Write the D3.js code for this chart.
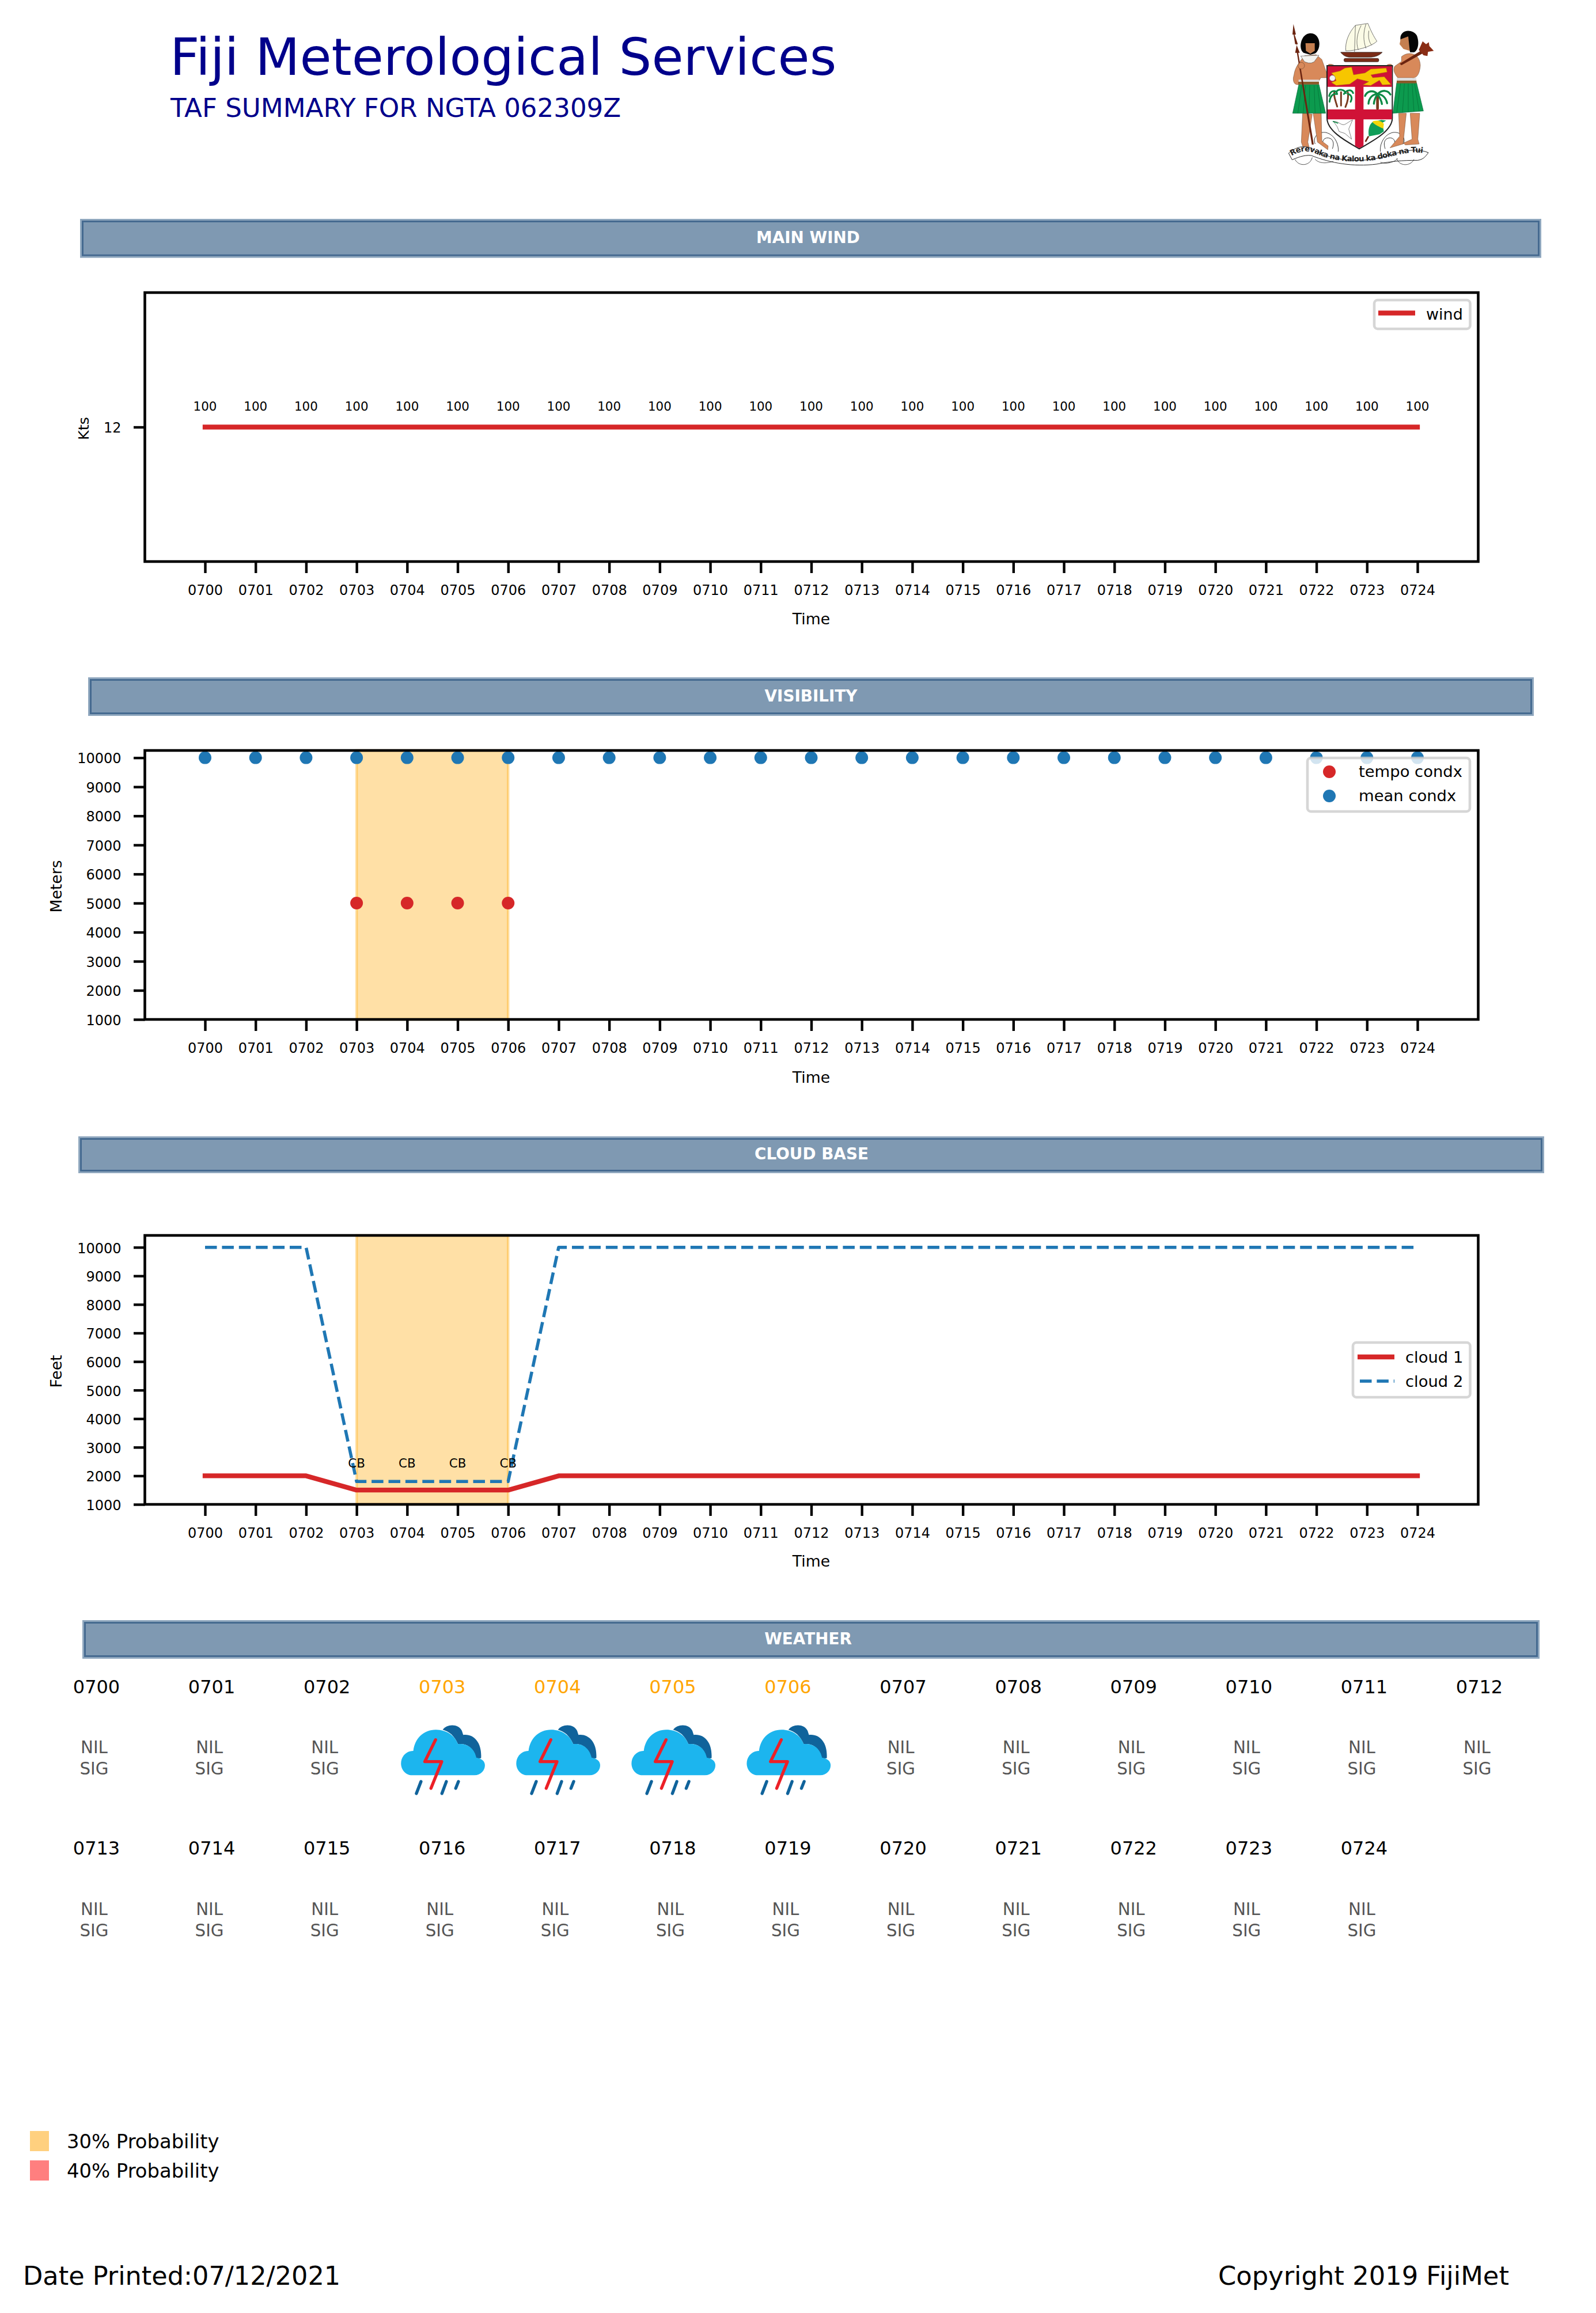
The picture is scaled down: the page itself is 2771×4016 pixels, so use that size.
<!DOCTYPE html>
<html><head><meta charset="utf-8">
<style>
html,body{margin:0;padding:0;background:#fff}
svg{display:block}
text{font-family:"DejaVu Sans";fill:#000}
</style>
<script src="https://cdn.jsdelivr.net/npm/d3@7/dist/d3.min.js"></script>
</head><body><svg id="c" width="2771" height="4016" viewBox="0 0 2771 4016"></svg>
<script>
// ---------- data ----------
const times = ["0700","0701","0702","0703","0704","0705","0706","0707","0708","0709","0710","0711","0712","0713","0714","0715","0716","0717","0718","0719","0720","0721","0722","0723","0724"];
const windSpeed = [12,12,12,12,12,12,12,12,12,12,12,12,12,12,12,12,12,12,12,12,12,12,12,12,12];
const windDir = ["100","100","100","100","100","100","100","100","100","100","100","100","100","100","100","100","100","100","100","100","100","100","100","100","100"];
const visMean = [10000,10000,10000,10000,10000,10000,10000,10000,10000,10000,10000,10000,10000,10000,10000,10000,10000,10000,10000,10000,10000,10000,10000,10000,10000];
const visTempoTimes = ["0703","0704","0705","0706"];
const visTempo = [5000,5000,5000,5000];
const cloud1 = [2000,2000,2000,1500,1500,1500,1500,2000,2000,2000,2000,2000,2000,2000,2000,2000,2000,2000,2000,2000,2000,2000,2000,2000,2000];
const cloud2 = [10000,10000,10000,1800,1800,1800,1800,10000,10000,10000,10000,10000,10000,10000,10000,10000,10000,10000,10000,10000,10000,10000,10000,10000,10000];
const cbTimes = ["0703","0704","0705","0706"];
const cbLabels = ["CB","CB","CB","CB"];
const cbHeights = [1800,1800,1800,1800];
const tempoSpan = ["0703","0706"];
const yTicks1000 = [1000,2000,3000,4000,5000,6000,7000,8000,9000,10000];
const windTicks = [12];
const weather = ["NIL","NIL","NIL","TS","TS","TS","TS","NIL","NIL","NIL","NIL","NIL","NIL","NIL","NIL","NIL","NIL","NIL","NIL","NIL","NIL","NIL","NIL","NIL","NIL"];
const probTimes = ["0703","0704","0705","0706"];
const probLabels = ["30% Probability","40% Probability"];
const probColors = ["#ffd07f","#ff7f7f"];
const banners = ["MAIN WIND","VISIBILITY","CLOUD BASE","WEATHER"];

// ---------- helpers ----------
const RED="#d62728", BLUE="#1f77b4", DASH="20.5 8.9";
const svg=d3.select("#c");
const L=251.5,R=2566.5,T0=356,T1=2461;
const x=d3.scalePoint().domain(times).range([T0,T1]);
const txt=(g,xx,yy,s,size,o={})=>{const t=g.append("text").attr("x",xx).attr("y",yy).attr("font-size",size).text(s);
  if(o.anchor)t.attr("text-anchor",o.anchor); if(o.fill)t.style("fill",o.fill); if(o.weight)t.attr("font-weight",o.weight); if(o.rot!==undefined)t.attr("transform",`rotate(${o.rot} ${xx} ${yy})`);return t;};

function banner(bx0,by0,bx1,by1,label,cx){
  const g=svg.append("g");
  g.append("rect").attr("x",bx0+3).attr("y",by0+3).attr("width",bx1-bx0-6).attr("height",by1-by0-6).attr("fill","#7f99b2").attr("stroke","#8fa7be").attr("stroke-width",6);
  g.append("rect").attr("x",bx0+4.5).attr("y",by0+4.5).attr("width",bx1-bx0-9).attr("height",by1-by0-9).attr("fill","none").attr("stroke","#456a90").attr("stroke-width",3);
  txt(g,cx,(by0+by1)/2+8,label,27.8,{anchor:"middle",fill:"#fff",weight:"bold"});
}
function axes(g,y,ticks,top,bottom,baseX,timeY,ylab,ylabX,ylabY,ylabSize){
  const ax=g.append("g").attr("transform",`translate(0,${bottom})`).call(d3.axisBottom(x).tickSize(20).tickSizeOuter(0));
  ax.select(".domain").remove();
  ax.selectAll(".tick line").attr("stroke","#000").attr("stroke-width",4.4);
  ax.selectAll(".tick text").attr("y",baseX-bottom).attr("dy",0).attr("font-size",24).attr("font-family","DejaVu Sans");
  const ay=g.append("g").attr("transform",`translate(${L},0)`).call(d3.axisLeft(y).tickValues(ticks).tickFormat(d3.format("d")).tickSize(19.5).tickSizeOuter(0));
  ay.select(".domain").remove();
  ay.selectAll(".tick line").attr("stroke","#000").attr("stroke-width",4.4);
  ay.selectAll(".tick text").attr("x",-41).attr("dy","0.39em").attr("font-size",24).attr("font-family","DejaVu Sans");
  g.append("rect").attr("x",L).attr("y",top).attr("width",R-L).attr("height",bottom-top).attr("fill","none").attr("stroke","#000").attr("stroke-width",4.6);
  txt(g,(T0+T1)/2,timeY,"Time",26.7,{anchor:"middle"});
  txt(g,ylabX,ylabY,ylab,ylabSize||26.7,{anchor:"middle",rot:-90});
}
function shade(g,top,bottom){
  g.append("rect").attr("x",x(tempoSpan[0])).attr("y",top).attr("width",x(tempoSpan[1])-x(tempoSpan[0])).attr("height",bottom-top)
   .attr("fill","#ffa500").attr("fill-opacity",.35).attr("stroke","#ffa500").attr("stroke-opacity",.35).attr("stroke-width",4.5);
}
function legendBox(g,a,b,c,d){
  g.append("rect").attr("x",a).attr("y",b).attr("width",c-a).attr("height",d-b).attr("rx",6).attr("ry",6)
   .attr("fill","#fff").attr("fill-opacity",.8).attr("stroke","#cccccc").attr("stroke-opacity",.8).attr("stroke-width",4.6);
}

// ---------- header ----------
const head=svg.append("g");
txt(head,295,130,"Fiji Meterological Services",89.6,{fill:"#00008b"});
txt(head,296,202.7,"TAF SUMMARY FOR NGTA 062309Z",45.1,{fill:"#00008b"});

// crest (drawn in a 1200x900 local box)
const crest=svg.append("g").attr("transform","translate(2150,20) scale(0.33333)");
crest.node().innerHTML=`
<g fill="none" stroke="#333" stroke-width="3">
 <path d="M400,690 C385,650 420,625 455,630 C500,640 525,690 520,730"/><path d="M440,690 C435,660 465,650 485,665 C500,680 495,700 490,715"/>
 <path d="M860,690 C875,650 840,625 805,630 C760,640 735,690 740,730"/><path d="M815,690 C820,660 790,650 770,665 C755,680 760,700 765,715"/>
</g>
<g>
 <path d="M345,230 C320,260 295,290 290,330 C280,360 290,385 315,380 L320,360 L420,360 L430,345 L460,345 L460,320 L435,250 L405,225 Z" fill="#d8895a" stroke="#5a3a25" stroke-width="1.5"/>
 <path d="M335,530 L328,680 L338,710 L370,712 L362,680 L385,535 Z" fill="#d8895a" stroke="#5a3a25" stroke-width="1.5"/>
 <path d="M390,530 L412,680 L466,720 L468,700 L435,675 L432,530 Z" fill="#d8895a" stroke="#5a3a25" stroke-width="1.5"/>
 <path d="M315,380 L420,380 L455,530 L283,530 Z" fill="#0c9a4e" stroke="#06643a" stroke-width="2"/>
 <g stroke="#067a3c" stroke-width="3"><path d="M330,385 L310,530M350,385 L338,530M372,385 L368,530M395,385 L400,530M412,385 L430,530"/></g>
 <rect x="314" y="355" width="106" height="12" fill="#ddd"/><rect x="312" y="366" width="108" height="14" fill="#8a5a2a"/>
 <path d="M340,215 C310,195 325,115 375,113 C430,113 435,195 400,218 L375,225 Z" fill="#050505"/>
 <path d="M350,165 L398,165 L398,205 L375,220 L352,205 Z" fill="#c57f50"/>
 <path d="M325,232 L420,228 L395,262 L380,268 L365,268 L345,262 Z" fill="#f4f4f0" stroke="#555" stroke-width="2"/>
 <path d="M287,65 L300,120 L293,120 L310,170 L302,170 L320,215 L312,215 L393,692 L383,694 L305,215 L296,215 L305,170 L296,170 L288,120 L282,120 Z" fill="#6b2410"/>
 <ellipse cx="328" cy="282" rx="17" ry="17" fill="#d8895a" stroke="#5a3a25" stroke-width="1.5"/>
 <path d="M470,275 C490,272 505,280 502,292 C495,300 480,298 470,295 Z" fill="#d8895a" stroke="#5a3a25" stroke-width="1.5"/>
</g>
<g>
 <path d="M850,235 C885,205 945,215 948,280 C945,330 925,350 905,345 L830,345 C810,320 805,300 815,285 L850,260 Z" fill="#d8895a" stroke="#5a3a25" stroke-width="1.5"/>
 <path d="M835,530 L840,650 L790,710 L858,690 L875,530 Z" fill="#d8895a" stroke="#5a3a25" stroke-width="1.5"/>
 <path d="M895,530 L905,665 L860,685 L870,695 L942,690 L935,665 L945,530 Z" fill="#d8895a" stroke="#5a3a25" stroke-width="1.5"/>
 <path d="M825,370 L928,370 L964,518 L805,530 Z" fill="#0c9a4e" stroke="#06643a" stroke-width="2"/>
 <g stroke="#067a3c" stroke-width="3"><path d="M845,375 L825,528M865,375 L855,526M885,375 L885,524M905,375 L915,522M918,375 L942,520"/></g>
 <rect x="825" y="347" width="102" height="14" fill="#ddd"/><rect x="825" y="360" width="103" height="14" fill="#8a5a2a"/>
 <path d="M845,150 C835,95 905,85 930,125 C945,165 935,205 915,212 L895,212 L885,180 Z" fill="#050505"/>
 <path d="M845,145 L885,130 L893,205 L860,195 L840,170 Z" fill="#c57f50"/>
 <path d="M840,272 L950,205 L960,218 L850,280 Z" fill="#6b2410"/>
 <path d="M960,155 L978,170 L992,160 L995,180 L1018,205 L988,210 L985,232 L965,228 L940,200 Z" fill="#8a2d15"/>
 <path d="M775,278 C790,270 805,275 805,290 L800,295 L785,292 Z" fill="#d8895a" stroke="#5a3a25" stroke-width="1.5"/>
</g>
<path d="M462,282 H802 V555 C802,625 690,680 630,715 C570,680 462,625 462,555 Z" fill="#fff" stroke="#222" stroke-width="6"/>
<path d="M465,285 H800 V392 H652 V510 H800 V562 H652 V700 L630,712 L608,700 V562 H465 V510 H608 V392 H465 Z" fill="#d01237"/>
<path d="M485,320 L530,310 L555,295 L590,290 L600,330 L660,320 L690,300 L770,295 L775,315 L690,330 L700,345 L760,340 L795,380 L750,382 L735,358 L690,385 L650,382 L680,365 L620,350 L580,378 L510,385 L485,370 L510,360 L500,335 Z" fill="#f7c600" stroke="#a98a00" stroke-width="1.5"/>
<circle cx="490" cy="347" r="15" fill="#f2f2f2" stroke="#777" stroke-width="2"/>
<g fill="none" stroke-linecap="round">
 <path d="M515,495 C505,460 495,440 500,420M535,490 L535,420M558,497 C570,470 575,445 570,420" stroke="#7a3b20" stroke-width="9"/>
 <path d="M473,440 C480,410 510,405 515,430M475,470 C478,440 495,425 510,430M510,420 C520,400 550,405 560,425M550,430 C565,405 590,405 598,425M585,470 C595,450 590,435 570,428" stroke="#0c8a45" stroke-width="9"/>
 <path d="M725,505 L725,440" stroke="#7a3b20" stroke-width="14"/>
 <path d="M725,430 C700,405 670,415 660,440M725,430 C700,430 680,450 678,480M725,430 C750,405 780,410 792,432M725,430 C750,430 770,450 775,478M725,430 C715,445 708,460 706,480M725,430 C735,445 745,460 748,482" stroke="#0c8a45" stroke-width="10"/>
</g>
<path d="M495,572 C520,570 530,590 550,590 C565,585 580,570 595,565 L575,612 L590,665 L555,635 L525,625 L515,600 Z" fill="#fff" stroke="#444" stroke-width="2"/>
<path d="M492,572 L520,582" stroke="#0c8a45" stroke-width="5"/>
<path d="M700,575 L745,565 L770,568 L750,580 L758,625 L735,640 L680,650 C675,620 680,590 700,575 Z" fill="#0f9d58"/>
<path d="M698,575 C705,565 745,565 758,585 L755,610 C735,600 710,590 698,575 Z" fill="#f3d60a"/>
<path d="M678,650 L662,678" stroke="#6b2410" stroke-width="8"/>
<path d="M610,72 L675,62 C690,100 705,130 722,155 C690,185 610,205 560,205 C555,160 575,110 610,72 Z" fill="#fbfbe6" stroke="#333" stroke-width="2"/>
<g fill="none" stroke="#333" stroke-width="2"><path d="M640,72 C620,110 610,160 625,200M665,65 C650,110 650,150 665,192M680,100 C675,130 680,160 695,175M610,72 L605,210"/></g>
<path d="M533,212 H750 C735,228 715,238 680,238 H585 C560,238 545,228 533,212 Z" fill="#7a2c18" stroke="#222" stroke-width="2"/>
<rect x="550" y="244" width="182" height="18" rx="8" fill="#7a2c18" stroke="#222" stroke-width="2"/>
<path d="M262,738 C300,705 340,695 380,712 C470,770 600,790 720,765 C820,745 900,700 990,735 C975,755 965,770 935,775 C850,775 800,780 720,795 C600,810 480,790 380,750 C340,745 300,765 280,772 Z" fill="#fff" stroke="#222" stroke-width="3"/>
<g fill="none" stroke="#333" stroke-width="2.5"><path d="M295,770 C315,810 375,805 385,760M915,770 C895,810 835,805 825,765M400,770 C430,800 480,785 495,780M740,785 C775,800 820,780 830,765"/></g>
<path id="scrollp" d="M278,752 C320,725 360,722 400,738 C480,778 600,792 720,772 C820,752 900,718 985,742" fill="none"/>
<text font-family="Liberation Serif" font-weight="bold" font-size="40" textLength="700" lengthAdjust="spacing" style="fill:#222"><textPath href="#scrollp">Rerevaka na Kalou ka doka na Tui</textPath></text>`;

// ---------- main wind ----------
banner(139,380,2676,447.7,banners[0],1403);
{
  const g=svg.append("g"), top=508,bottom=975;
  const y=d3.scaleLinear().domain([11,13]).range([bottom,top]);
  g.selectAll("text.dir").data(windDir).join("text").attr("class","dir").attr("x",(d,i)=>x(times[i])).attr("y",(d,i)=>y(windSpeed[i])-29).attr("font-size",21.4).attr("text-anchor","middle").text(d=>d);
  g.append("path").datum(windSpeed).attr("fill","none").attr("stroke",RED).attr("stroke-width",8.3).attr("stroke-linecap","square")
   .attr("d",d3.line().x((d,i)=>x(times[i])).y(d=>y(d)));
  axes(g,y,windTicks,top,bottom,1033,1083.5,"Kts",154,744,25.5);
  legendBox(g,2386,521,2552.5,571);
  g.append("line").attr("x1",2393).attr("x2",2457).attr("y1",543.5).attr("y2",543.5).attr("stroke",RED).attr("stroke-width",8.3);
  txt(g,2476,554.5,"wind",27);
}

// ---------- visibility ----------
banner(153,1176,2663,1243,banners[1],1408);
{
  const g=svg.append("g"), top=1303,bottom=1770;
  const y=d3.scaleLinear().domain([1000,10250]).range([bottom,top]);
  shade(g,top,bottom);
  g.selectAll("circle.mean").data(visMean).join("circle").attr("class","mean").attr("cx",(d,i)=>x(times[i])).attr("cy",d=>y(d)).attr("r",11).attr("fill",BLUE);
  g.selectAll("circle.tempo").data(visTempo).join("circle").attr("class","tempo").attr("cx",(d,i)=>x(visTempoTimes[i])).attr("cy",d=>y(d)).attr("r",11).attr("fill",RED);
  axes(g,y,yTicks1000,top,bottom,1828,1879.5,"Meters",107,1539);
  legendBox(g,2270,1316,2552,1409);
  g.append("circle").attr("cx",2308).attr("cy",1340).attr("r",11).attr("fill",RED);
  g.append("circle").attr("cx",2308).attr("cy",1382).attr("r",11).attr("fill",BLUE);
  txt(g,2359,1349,"tempo condx",27.4);
  txt(g,2359,1391,"mean condx",27.4);
}

// ---------- cloud base ----------
banner(136,1973,2681,2037,banners[2],1409);
{
  const g=svg.append("g"), top=2145,bottom=2612;
  const y=d3.scaleLinear().domain([1000,10417]).range([bottom,top]);
  shade(g,top,bottom);
  const ln=d3.line().x((d,i)=>x(times[i])).y(d=>y(d));
  g.append("path").datum(cloud1).attr("fill","none").attr("stroke",RED).attr("stroke-width",8.3).attr("stroke-linecap","square").attr("stroke-linejoin","round").attr("d",ln);
  g.append("path").datum(cloud2).attr("fill","none").attr("stroke",BLUE).attr("stroke-width",5.5).attr("stroke-dasharray",DASH).attr("stroke-linejoin","round").attr("d",ln);
  g.selectAll("text.cb").data(cbLabels).join("text").attr("class","cb").attr("x",(d,i)=>x(cbTimes[i])).attr("y",(d,i)=>y(cbHeights[i])-24).attr("font-size",21.4).attr("text-anchor","middle").text(d=>d);
  axes(g,y,yTicks1000,top,bottom,2670,2720,"Feet",107,2381);
  legendBox(g,2349,2331,2552.5,2426);
  g.append("line").attr("x1",2357).attr("x2",2421).attr("y1",2356).attr("y2",2356).attr("stroke",RED).attr("stroke-width",8.3);
  g.append("line").attr("x1",2361).attr("x2",2421).attr("y1",2398).attr("y2",2398).attr("stroke",BLUE).attr("stroke-width",5.5).attr("stroke-dasharray",DASH);
  txt(g,2440,2366,"cloud 1",27.4);
  txt(g,2440,2408,"cloud 2",27.4);
}

// ---------- weather ----------
banner(143,2813,2673,2880,banners[3],1403);
{
  const g=svg.append("g");
  const perRow=13;
  const col=d3.scaleLinear().domain([0,12]).range([167.5,2568.5]);
  const rowLabel=[2940,3220], rowNil=[3044,3325], rowIcon=[2960,3241];
  times.forEach((t,i)=>{
    const c=i%perRow, r=Math.floor(i/perRow), cx=col(c);
    txt(g,cx,rowLabel[r],t,32,{anchor:"middle",fill:probTimes.includes(t)?"#ffa500":"#000"});
    if(weather[i]==="NIL"){
      txt(g,cx-4,rowNil[r],"NIL",29.3,{anchor:"middle",fill:"#555"});
      txt(g,cx-4,rowNil[r]+37,"SIG",29.3,{anchor:"middle",fill:"#555"});
    } else {
      const ic=g.append("g").attr("transform",`translate(${cx-107.5},${rowIcon[r]}) scale(0.33333)`);
      ic.append("path").attr("fill","#10639b").attr("d","M325,130 C345,100 405,95 425,135 L432,157 C490,150 530,200 525,278 L497,280 C490,225 450,200 405,205 C385,160 360,140 325,130 Z");
      ic.append("path").attr("fill","#1cb5ee").attr("d","M165,367 H490 C525,367 545,340 545,315 C545,295 530,280 500,275 C490,225 450,200 405,205 C385,155 340,130 290,130 C225,130 180,175 172,240 C135,240 108,270 108,305 C108,340 135,367 165,367 Z");
      ic.append("path").attr("fill","none").attr("stroke","#ec2027").attr("stroke-width",16).attr("stroke-linecap","round").attr("stroke-linejoin","round").attr("d","M288,182 L232,296 L320,296 L264,435");
      ic.append("path").attr("fill","none").attr("stroke","#10639b").attr("stroke-width",16).attr("stroke-linecap","round").attr("d","M212,400 L188,462 M344,400 L321,462 M407,400 L393,435");
    }
  });
}

// ---------- probability key + footer ----------
{
  const g=svg.append("g");
  const ky=d3.scalePoint().domain(probLabels).range([3717.5,3768.5]);
  probLabels.forEach((p,i)=>{
    g.append("rect").attr("x",52).attr("y",ky(p)-17.5).attr("width",33).attr("height",35).attr("fill",probColors[i]);
    txt(g,116,ky(p)+12.5,p,33.8);
  });
  txt(g,40,3967,"Date Printed:07/12/2021",44.6);
  txt(g,2115,3967,"Copyright 2019 FijiMet",44.8);
}
</script></body></html>
